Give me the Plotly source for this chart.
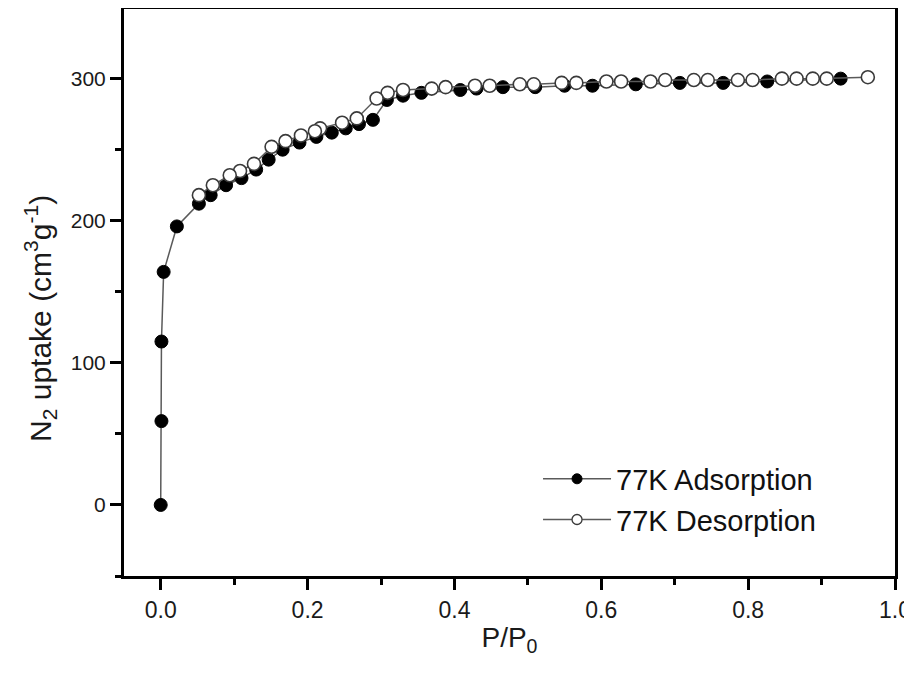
import plotly.graph_objects as go

# Adsorption branch (filled)
ads_x = [0.0, 0.001, 0.001, 0.004, 0.022, 0.052, 0.068, 0.089, 0.110, 0.130, 0.147,
         0.166, 0.189, 0.212, 0.233, 0.252, 0.270, 0.289, 0.308, 0.330, 0.355, 0.408,
         0.430, 0.466, 0.510, 0.550, 0.588, 0.647, 0.707, 0.766, 0.826, 0.926]
ads_y = [0, 59, 115, 164, 196, 212, 218, 225, 230, 236, 243,
         250, 255, 259, 262, 265, 268, 271, 285, 288, 290, 292,
         293, 294, 294, 295, 295, 296, 297, 297, 298, 300]

# Desorption branch (open)
des_x = [0.963, 0.907, 0.888, 0.866, 0.846, 0.806, 0.786, 0.745, 0.726, 0.687, 0.667,
         0.627, 0.607, 0.566, 0.546, 0.508, 0.489, 0.448, 0.428, 0.388, 0.369, 0.330,
         0.309, 0.294, 0.267, 0.247, 0.217, 0.210, 0.191, 0.170, 0.151, 0.127, 0.108,
         0.094, 0.071, 0.052]
des_y = [301, 300, 300, 300, 300, 299, 299, 299, 299, 299, 298,
         298, 298, 297, 297, 296, 296, 295, 295, 294, 293, 292,
         290, 286, 272, 269, 265, 263, 260, 256, 252, 240, 235,
         232, 225, 218]

names = ["77K Adsorption", "77K Desorption"]
x_ticks = [0, 0.2, 0.4, 0.6, 0.8, 1.0]
x_ticktext = ["0.0", "0.2", "0.4", "0.6", "0.8", "1.0"]
y_ticks = [0, 100, 200, 300]
x_title = "P/P<sub>0</sub>"
y_title = "N<sub>2</sub> uptake (cm<sup>3</sup>g<sup>-1</sup>)"

LINE = "#5a5a5a"
FONT = "Liberation Sans, Arial, sans-serif"

fig = go.Figure()
fig.add_trace(go.Scatter(
    x=ads_x, y=ads_y, mode="lines+markers", showlegend=False,
    line=dict(color=LINE, width=1.5),
    marker=dict(symbol="circle", size=13, color="black", line=dict(color="black", width=1))))
fig.add_trace(go.Scatter(
    x=des_x, y=des_y, mode="lines+markers", showlegend=False,
    line=dict(color=LINE, width=1.5),
    marker=dict(symbol="circle", size=13, color="white", line=dict(color="#3a3a3a", width=1.6))))
# legend entries with small markers
fig.add_trace(go.Scatter(
    x=[None], y=[None], mode="lines+markers", name=names[0],
    line=dict(color=LINE, width=1.5),
    marker=dict(symbol="circle", size=10, color="black", line=dict(color="black", width=1))))
fig.add_trace(go.Scatter(
    x=[None], y=[None], mode="lines+markers", name=names[1],
    line=dict(color=LINE, width=1.5),
    marker=dict(symbol="circle", size=10, color="white", line=dict(color="#3a3a3a", width=1.3))))

fig.update_layout(
    width=912, height=676,
    margin=dict(l=116, r=25, t=1, b=108),
    paper_bgcolor="white", plot_bgcolor="white",
    font=dict(family=FONT, color="#1a1a1a"),
    legend=dict(x=0.537, y=0.135, xanchor="left", yanchor="middle",
                font=dict(size=29, color="#111111"), bgcolor="rgba(0,0,0,0)",
                tracegroupgap=0, itemwidth=68),
    annotations=[dict(
        text=y_title, textangle=-90, xref="paper", yref="paper",
        x=-0.109, y=0.455, xanchor="center", yanchor="middle", showarrow=False,
        font=dict(size=30, color="#1a1a1a"))],
)
fig.update_xaxes(
    range=[-0.05, 1.0], tickvals=x_ticks, ticktext=x_ticktext,
    showgrid=False, zeroline=False, automargin=False,
    showline=True, linecolor="black", linewidth=3, mirror=True,
    ticks="outside", ticklen=11, tickwidth=2.5, tickcolor="black",
    minor=dict(tickvals=[0.1, 0.3, 0.5, 0.7, 0.9], ticks="outside", ticklen=6, tickwidth=2.5, tickcolor="black"),
    tickfont=dict(size=23),
    title=dict(text=x_title, font=dict(size=28), standoff=6),
)
fig.update_yaxes(
    range=[-50, 349], tickvals=y_ticks,
    showgrid=False, zeroline=False, automargin=False,
    showline=True, linecolor="black", linewidth=3, mirror=True,
    ticks="outside", ticklen=11, tickwidth=2.5, tickcolor="black",
    minor=dict(tickvals=[-50, 50, 150, 250], ticks="outside", ticklen=6, tickwidth=2.5, tickcolor="black"),
    tickfont=dict(size=21),
)

fig.write_html("out.html")
